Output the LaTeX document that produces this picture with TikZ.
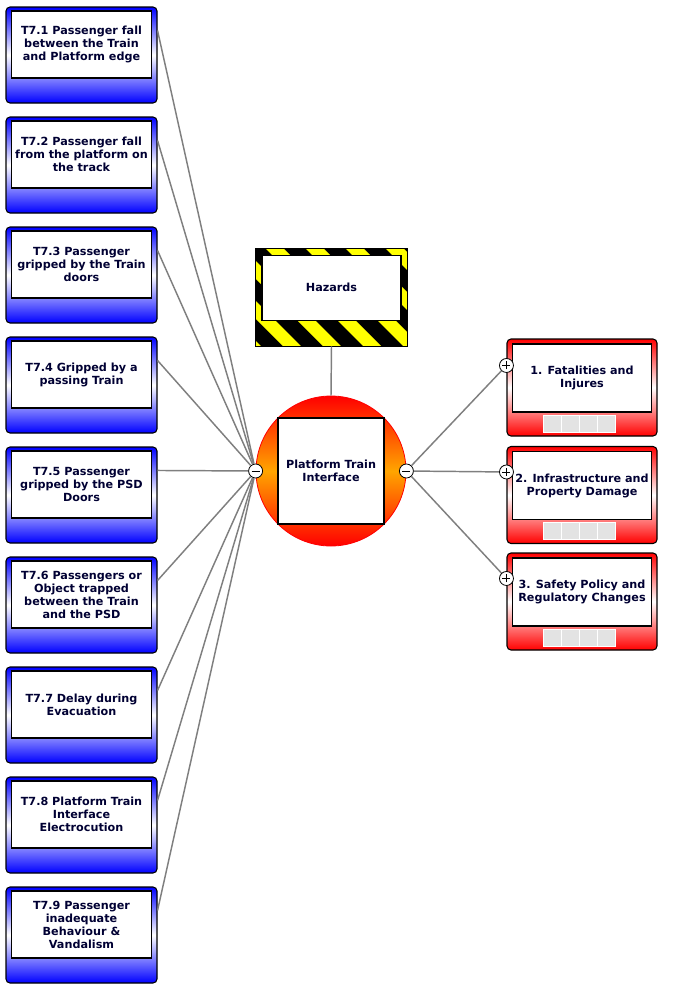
\documentclass[tikz,border=0pt]{standalone}
\usepackage{fontspec}
\setmainfont{DejaVu Sans}
\usepackage{tikz}
\usetikzlibrary{positioning}
\definecolor{navytxt}{HTML}{000033}
\definecolor{linegray}{HTML}{7F7F7F}
\definecolor{thblue}{HTML}{0000FF}
\definecolor{cred}{HTML}{FF0000}
\definecolor{orng}{HTML}{FFA500}
\definecolor{hzyellow}{HTML}{FFFF00}
\definecolor{sqgray}{HTML}{E3E3E3}

\begin{document}
\begin{tikzpicture}[x=0.75pt,y=-0.75pt]
    \tikzstyle{every node}=[font=\fontsize{8.4}{9.75}\selectfont\bfseries, text=navytxt, inner sep=0pt];
    \tikzstyle{threat}=[draw=black, line width=0.8pt, rounded corners=3pt, minimum width=113.25pt, minimum height=72pt, top color=thblue, bottom color=thblue, middle color=white];
    \tikzstyle{conseq}=[draw=black, line width=0.8pt, rounded corners=3pt, minimum width=112.5pt, minimum height=72.75pt, top color=cred, bottom color=cred, middle color=white];
    \tikzstyle{inbox}=[draw=black, line width=0.8pt, fill=white, align=center, minimum width=105pt, minimum height=50.25pt];
    \tikzstyle{sq}=[draw=white, line width=0.6pt, fill=sqgray, minimum width=13.5pt, minimum height=12.75pt];
    \tikzstyle{conn}=[circle, draw=black, fill=white, line width=0.6pt, minimum size=10.5pt];
    \tikzstyle{minus}=[conn, path picture={\draw[line width=0.6pt] ([xshift=-3pt]path picture bounding box.center) -- ([xshift=3pt]path picture bounding box.center);}];
    \tikzstyle{plus}=[conn, path picture={\draw[line width=0.6pt] ([xshift=-3pt]path picture bounding box.center) -- ([xshift=3pt]path picture bounding box.center)
        ([yshift=-3pt]path picture bounding box.center) -- ([yshift=3pt]path picture bounding box.center);}];
    \tikzstyle{link}=[draw=linegray, line width=1.1pt];
    \useasboundingbox (0,0) rectangle (678,992);

    % threats
    \node[threat] (t1) at (81.5, 55) {};
    \node[inbox, below=3pt of t1.north] (t1txt) {T7.1 Passenger fall\\between the Train\\and Platform edge};
    \node[threat] (t2) at (81.5, 165) {};
    \node[inbox, below=3pt of t2.north] (t2txt) {T7.2 Passenger fall\\from the platform on\\the track};
    \node[threat] (t3) at (81.5, 275) {};
    \node[inbox, below=3pt of t3.north] (t3txt) {T7.3 Passenger\\gripped by the Train\\doors};
    \node[threat] (t4) at (81.5, 385) {};
    \node[inbox, below=3pt of t4.north] (t4txt) {T7.4 Gripped by a\\passing Train};
    \node[threat] (t5) at (81.5, 495) {};
    \node[inbox, below=3pt of t5.north] (t5txt) {T7.5 Passenger\\gripped by the PSD\\Doors};
    \node[threat] (t6) at (81.5, 605) {};
    \node[inbox, below=3pt of t6.north] (t6txt) {T7.6 Passengers or\\Object trapped\\between the Train\\and the PSD};
    \node[threat] (t7) at (81.5, 715) {};
    \node[inbox, below=3pt of t7.north] (t7txt) {T7.7 Delay during\\Evacuation};
    \node[threat] (t8) at (81.5, 825) {};
    \node[inbox, below=3pt of t8.north] (t8txt) {T7.8 Platform Train\\Interface\\Electrocution};
    \node[threat] (t9) at (81.5, 935) {};
    \node[inbox, below=3pt of t9.north] (t9txt) {T7.9 Passenger\\inadequate\\Behaviour \&\\Vandalism};

    % hazard
    \node[fill=black, minimum width=113.25pt, minimum height=72.75pt] (haz) at (331.5, 297.5) {};
    \begin{scope}
        \clip (haz.south west) rectangle (haz.north east);
        \foreach \k in {-3,...,4}
            \fill[hzyellow, shift={(haz.north west)}] (40*\k+10, 0) -- ++(18,0) -- ++(100,100) -- ++(-18,0) -- cycle;
    \end{scope}
    \draw[line width=0.8pt] (haz.south west) rectangle (haz.north east);
    \node[inbox, minimum width=104.25pt, minimum height=48.75pt, below=4.5pt of haz.north] (haztxt) {Hazards};

    % top event
    \node[circle, draw=cred, line width=0.6pt, minimum size=112.5pt, top color=cred, bottom color=cred, middle color=orng] (top) at (331, 471) {};
    \node[inbox, minimum width=79.5pt, minimum height=79.5pt] (toptxt) at (top) {Platform Train\\Interface};
    \node[minus] (lc) at (top.west) {};
    \node[minus] (rc) at (top.east) {};

    % consequences
    \node[conseq] (c1) at (582, 387.5) {};
    \node[inbox, minimum width=104.25pt, minimum height=51pt, below=3.75pt of c1.north] (c1txt) {1. Fatalities and\\Injures};
    \node[conseq] (c2) at (582, 495) {};
    \node[inbox, minimum width=104.25pt, minimum height=51pt, below=3.75pt of c2.north] (c2txt) {2. Infrastructure and\\Property Damage};
    \node[conseq] (c3) at (582, 601.5) {};
    \node[inbox, minimum width=104.25pt, minimum height=51pt, below=3.75pt of c3.north] (c3txt) {3. Safety Policy and\\Regulatory Changes};
    \foreach \c in {c1,c2,c3}
        \foreach \k/\dx in {1/-30,2/-12,3/6,4/24}
            \node[sq, anchor=south] (\c-sq\k) at ([xshift=\dx*0.75pt, yshift=3pt]\c.south) {};
    \node[plus] (p1) at ([yshift=-20.25pt]c1.north west) {};
    \node[plus] (p2) at ([yshift=-19.5pt]c2.north west) {};
    \node[plus] (p3) at ([yshift=-19.5pt]c3.north west) {};

    % connectors
    \draw[link] ([yshift=-18pt]t1.north east) -- (lc);
    \draw[link] ([yshift=-18pt]t2.north east) -- (lc);
    \draw[link] ([yshift=-18pt]t3.north east) -- (lc);
    \draw[link] ([yshift=-18pt]t4.north east) -- (lc);
    \draw[link] ([yshift=-18pt]t5.north east) -- (lc);
    \draw[link] ([yshift=-18pt]t6.north east) -- (lc);
    \draw[link] ([yshift=-18pt]t7.north east) -- (lc);
    \draw[link] ([yshift=-18pt]t8.north east) -- (lc);
    \draw[link] ([yshift=-18pt]t9.north east) -- (lc);
    \draw[link] (haz.south) -- (top.north);
    \draw[link] (rc) -- (p1);
    \draw[link] (rc) -- (p2);
    \draw[link] (rc) -- (p3);
\end{tikzpicture}
\end{document}
